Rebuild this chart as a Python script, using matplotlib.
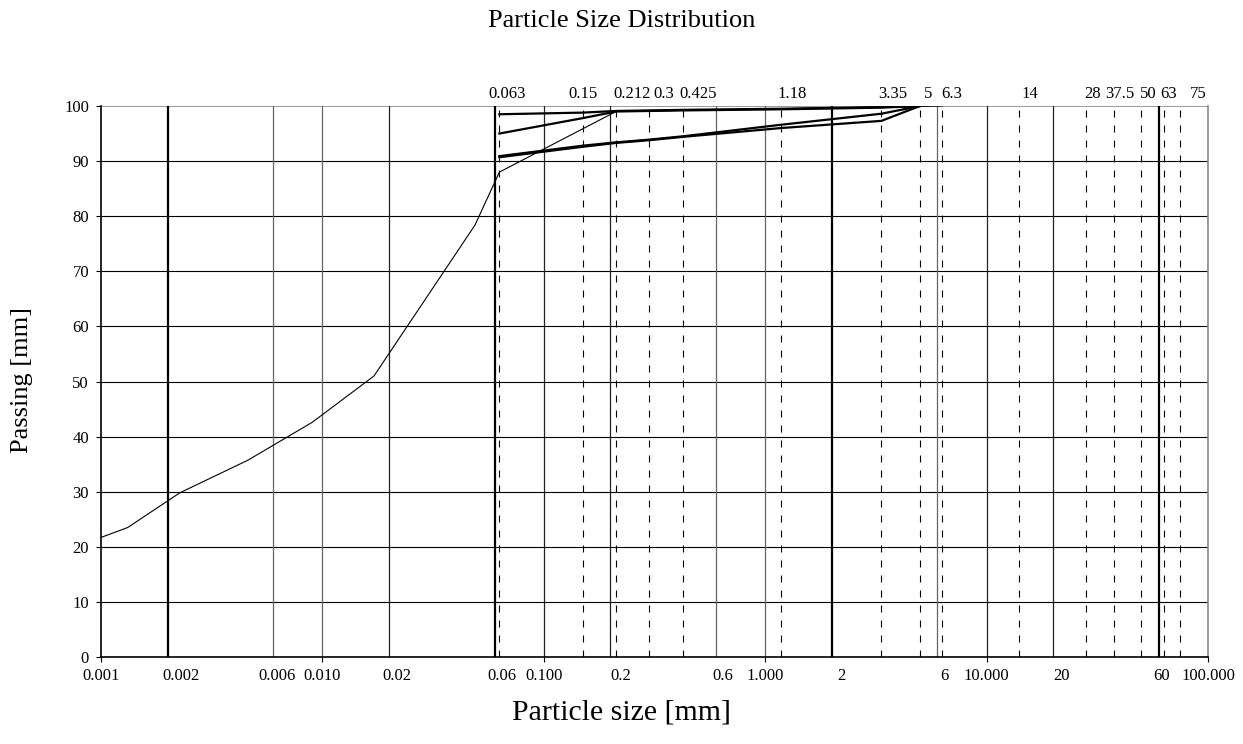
import matplotlib
matplotlib.use('Agg')
from matplotlib import pyplot as plt
from matplotlib import transforms

plt.rcParams['font.family'] = ['Liberation Serif', 'DejaVu Serif']
plt.rcParams['lines.scale_dashes'] = False

# fine soil curve (hydrometer + sieve)
fine_size = [0.001, 0.00132, 0.00227, 0.0046, 0.009, 0.0171, 0.0489, 0.063, 0.212, 6.3]
fine_pass = [21.7, 23.5, 29.8, 35.7, 42.6, 51.0, 78.4, 88.0, 99.0, 100.0]

# coarse samples, sieve analysis
sieve_size = [0.063, 0.15, 0.212, 0.3, 0.425, 1.18, 3.35, 5]
sample_a = [98.5, 98.8, 99.1, 99.2, 99.3, 99.5, 99.8, 100]
sample_b = [95.0, 97.8, 99.0, 99.1, 99.2, 99.4, 99.7, 100]
sample_c = [90.7, 92.6, 93.3, 93.8, 94.4, 96.0, 97.3, 100]
sample_d = [90.9, 92.8, 93.4, 93.9, 94.5, 96.6, 98.6, 100]

# sieve sizes shown as dashed lines
sieves = [0.063, 0.15, 0.212, 0.3, 0.425, 1.18, 3.35, 5, 6.3, 14, 28, 37.5, 50, 63, 75]
sieve_labels = ['0.063', '0.15', '0.212', '0.3', '0.425', '1.18', '3.35', '5', '6.3',
                '14', '28', '37.5', '50', '63', '75']
# label shift to the right of its line, pixels
sieve_shift = [8, 0, 16, 14, 15, 11, 11, 8, 10, 11, 7, 6, 7, 5, 18]

# grid lines
grid_thin = [0.006, 0.01, 0.02, 0.1, 0.2, 0.6, 1, 6, 10, 20]
grid_gray = [0.006, 0.01, 0.6, 1, 6]
grid_thick = [0.002, 0.06, 2, 60]

major = [0.001, 0.01, 0.1, 1, 10, 100]
major_labels = ['0.001', '0.010', '0.100', '1.000', '10.000', '100.000']
mid = [0.002, 0.006, 0.02, 0.06, 0.2, 0.6, 2, 6, 20, 60]
mid_labels = ['0.002', '0.006', '0.02', '0.06', '0.2', '0.6', '2', '6', '20', '60']
mid_shift = [13, 4, 8, 7, 10, 7, 10, 7, 8, 3]

fs = 12
fig = plt.figure(figsize=(12.43, 7.44), dpi=100)
ax = fig.add_axes([101/1243, 87/744, 1107/1243, 551/744])
ax.set_xscale('log')
ax.set_xlim(0.001, 100)
ax.set_ylim(0, 100)

for y in range(10, 100, 10):
    ax.axhline(y, color='black', lw=0.8, zorder=1)
ax.axhline(100, color='#888888', lw=1.2, zorder=1)
for x in grid_thin:
    c = '#666666' if x in grid_gray else '#222222'
    ax.axvline(x, color=c, lw=0.9, zorder=1)
for x in grid_thick:
    ax.axvline(x, color='black', lw=1.6, zorder=1)
for x in sieves:
    ax.axvline(x, color='black', lw=0.8, dashes=(5, 5.8), zorder=1)

ax.plot(fine_size, fine_pass, color='black', lw=0.8, zorder=3)
for s in [sample_a, sample_b, sample_c, sample_d]:
    ax.plot(sieve_size, s, color='black', lw=1.6, zorder=3)

ax.set_yticks(range(0, 101, 10))
ax.set_xticks(major)
ax.set_xticklabels(major_labels)
ax.xaxis.set_minor_locator(matplotlib.ticker.NullLocator())
ax.tick_params(axis='both', direction='out', length=3.6, width=0.8, labelsize=fs, pad=4)
ax.tick_params(axis='y', pad=5)

ax.spines['top'].set_visible(False)
ax.spines['right'].set_color('#888888')
ax.spines['right'].set_linewidth(1.2)
ax.spines['left'].set_linewidth(1.2)
ax.spines['bottom'].set_linewidth(1.2)

px = 72 / fig.dpi
for x, t, dx in zip(mid, mid_labels, mid_shift):
    tr = transforms.offset_copy(ax.get_xaxis_transform(), fig=fig, x=dx * px, y=-7.6, units='points')
    ax.text(x, 0, t, transform=tr, ha='center', va='top', fontsize=fs)

for x, t, dx in zip(sieves, sieve_labels, sieve_shift):
    tr = transforms.offset_copy(ax.get_xaxis_transform(), fig=fig, x=dx * px, y=3, units='points')
    ax.text(x, 1, t, transform=tr, ha='center', va='bottom', fontsize=fs)

fig.text(0.5, 1 - 21/744, 'Particle Size Distribution', ha='center', va='center', fontsize=19)
fig.text(0.5, 1 - 712/744, 'Particle size [mm]', ha='center', va='center', fontsize=21.5)
fig.text(22/1243, 1 - 380/744, 'Passing [mm]', ha='center', va='center', rotation=90, fontsize=19)

fig.savefig('out.png', dpi=100)
